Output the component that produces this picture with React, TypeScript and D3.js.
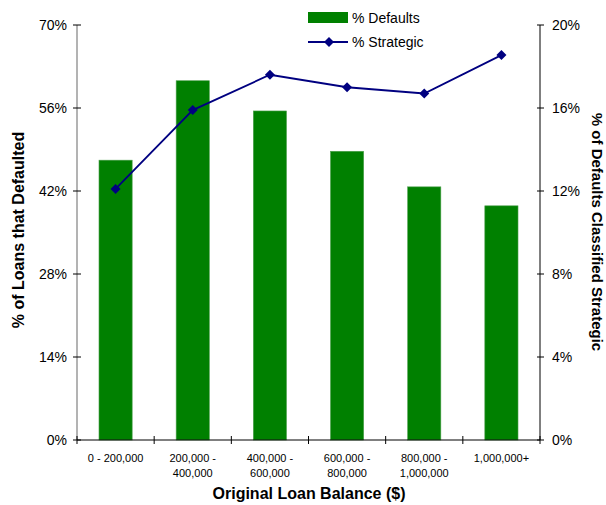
import React from "react";
import * as d3 from "d3";

const categories: string[][] = [
  ["0 - 200,000"],
  ["200,000 -", "400,000"],
  ["400,000 -", "600,000"],
  ["600,000 -", "800,000"],
  ["800,000 -", "1,000,000"],
  ["1,000,000+"],
];
const defaultsPct = [47.2, 60.6, 55.5, 48.7, 42.7, 39.5];
const strategicPct = [12.1, 15.9, 17.6, 17.0, 16.7, 18.55];
const leftTicks = [0, 14, 28, 42, 56, 70];
const rightTicks = [0, 4, 8, 12, 16, 20];

const W = 606;
const H = 505;
const left = 77;
const right = 540;
const top = 25;
const bottom = 440;
const font = "Liberation Sans, Arial, sans-serif";

export default function App() {
  const x = d3
    .scaleBand<number>()
    .domain(d3.range(categories.length))
    .range([left, right])
    .paddingInner(0)
    .paddingOuter(0);
  const yL = d3.scaleLinear().domain([0, 70]).range([bottom, top]);
  const yR = d3.scaleLinear().domain([0, 20]).range([bottom, top]);
  const barW = x.bandwidth() * 0.43;
  const cx = (i: number) => (x(i) as number) + x.bandwidth() / 2;

  const line = d3
    .line<number>()
    .x((_, i) => cx(i))
    .y((d) => yR(d));

  const diamond = (px: number, py: number, r = 5) =>
    `M${px},${py - r}L${px + r},${py}L${px},${py + r}L${px - r},${py}Z`;

  const boundaries = d3.range(categories.length + 1).map((i) =>
    i < categories.length ? (x(i) as number) : right
  );

  return (
    <svg
      width={W}
      height={H}
      style={{ position: "absolute", left: 0, top: 0 }}
      fontFamily={font}
    >
      <rect width={W} height={H} fill="#fff" />

      {/* bars */}
      {defaultsPct.map((v, i) => (
        <rect
          key={i}
          x={cx(i) - barW / 2}
          y={yL(v)}
          width={barW}
          height={bottom - yL(v)}
          fill="#008000"
          stroke="#4fa04f"
          strokeWidth={0.6}
        />
      ))}

      {/* left axis */}
      <line x1={left} x2={left} y1={top} y2={bottom} stroke="#808080" strokeWidth={1.2} />
      {leftTicks.map((t) => (
        <g key={t}>
          <line x1={left - 4} x2={left + 4} y1={yL(t)} y2={yL(t)} stroke="#000" />
          <text x={67} y={yL(t)} dy="0.35em" textAnchor="end" fontSize={14} fill="#000">
            {t}%
          </text>
        </g>
      ))}

      {/* right axis */}
      <line x1={right} x2={right} y1={top} y2={bottom} stroke="#000" />
      {rightTicks.map((t) => (
        <g key={t}>
          <line x1={right - 3} x2={right + 4} y1={yR(t)} y2={yR(t)} stroke="#000" />
          <text x={552} y={yR(t)} dy="0.35em" textAnchor="start" fontSize={14} fill="#000">
            {t}%
          </text>
        </g>
      ))}

      {/* x axis */}
      <line x1={left} x2={right} y1={bottom} y2={bottom} stroke="#000" />
      {boundaries.map((b, i) => (
        <line key={i} x1={b} x2={b} y1={bottom - 4} y2={bottom + 4} stroke="#000" />
      ))}
      {categories.map((lines, i) => (
        <text key={i} x={cx(i)} y={462} textAnchor="middle" fontSize={11} fill="#000">
          {lines.map((l, j) => (
            <tspan key={j} x={cx(i)} dy={j === 0 ? 0 : 15}>
              {l}
            </tspan>
          ))}
        </text>
      ))}

      {/* strategic line */}
      <path d={line(strategicPct) || ""} fill="none" stroke="#000080" strokeWidth={1.8} />
      {strategicPct.map((v, i) => (
        <path key={i} d={diamond(cx(i), yR(v))} fill="#000080" />
      ))}

      {/* axis titles */}
      <text x={309} y={499} textAnchor="middle" fontSize={16} fontWeight="bold" fill="#000">
        Original Loan Balance ($)
      </text>
      <text
        transform="translate(24,230) rotate(-90)"
        textAnchor="middle"
        fontSize={16}
        fontWeight="bold"
        fill="#000"
      >
        % of Loans that Defaulted
      </text>
      <text
        transform="translate(592,232) rotate(90)"
        textAnchor="middle"
        fontSize={15}
        fontWeight="bold"
        fill="#000"
      >
        % of Defaults Classified Strategic
      </text>

      {/* legend */}
      <rect x={308} y={12} width={40} height={11} fill="#008000" />
      <text x={352} y={18} dy="0.35em" fontSize={14} fill="#000">
        % Defaults
      </text>
      <line x1={308} x2={348} y1={42} y2={42} stroke="#000080" strokeWidth={1.8} />
      <path d={diamond(329, 42)} fill="#000080" />
      <text x={352} y={42} dy="0.35em" fontSize={14} fill="#000">
        % Strategic
      </text>
    </svg>
  );
}
